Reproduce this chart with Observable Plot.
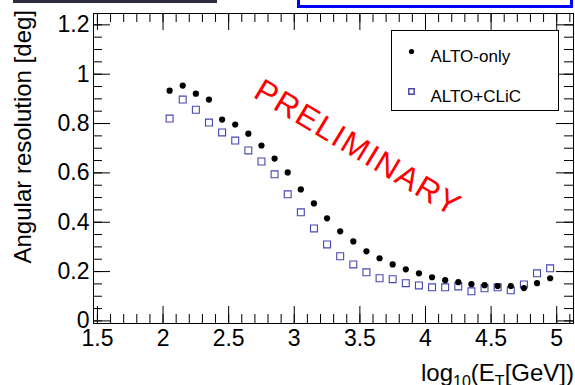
<!DOCTYPE html>
<html>
<head>
<meta charset="utf-8">
<script src="https://cdn.jsdelivr.net/npm/d3@7"></script>
<script src="https://cdn.jsdelivr.net/npm/@observablehq/plot@0.6"></script>
<style>
  html, body { margin: 0; padding: 0; background: #fff; }
  #wrap { position: relative; width: 575px; height: 385px; overflow: hidden; }
  #barDark { position: absolute; left: 13px; top: 0; width: 204px; height: 3px; background: #2b2b3c; }
  #barBlue { position: absolute; left: 297px; top: -4px; width: 270px; height: 6px; border: 3px solid #0000ff; background: #fff; }
</style>
</head>
<body>
<div id="wrap">
  <div id="chart"></div>
  <div id="barDark"></div>
  <div id="barBlue"></div>
</div>
<script>
// ---- data ----
const energyBins = [2.05, 2.15, 2.25, 2.35, 2.45, 2.55, 2.65, 2.75, 2.85, 2.95,
                    3.05, 3.15, 3.25, 3.35, 3.45, 3.55, 3.65, 3.75, 3.85, 3.95,
                    4.05, 4.15, 4.25, 4.35, 4.45, 4.55, 4.65, 4.75, 4.85, 4.95];
const altoOnly = [0.933, 0.954, 0.921, 0.897, 0.816, 0.796, 0.759, 0.711, 0.658, 0.602,
                  0.533, 0.476, 0.416, 0.363, 0.322, 0.282, 0.254, 0.229, 0.209, 0.193,
                  0.177, 0.165, 0.157, 0.149, 0.145, 0.141, 0.141, 0.133, 0.153, 0.173];
const altoClic = [0.820, 0.897, 0.856, 0.804, 0.764, 0.731, 0.691, 0.646, 0.594, 0.513,
                  0.440, 0.375, 0.310, 0.262, 0.229, 0.197, 0.173, 0.169, 0.153, 0.144,
                  0.136, 0.136, 0.140, 0.120, 0.132, 0.136, 0.124, 0.148, 0.193, 0.213];
const seriesNames = ["ALTO-only", "ALTO+CLiC"];
const xMajorTicks = [1.5, 2, 2.5, 3, 3.5, 4, 4.5, 5];
const yMajorTicks = [0, 0.2, 0.4, 0.6, 0.8, 1, 1.2];
const annotation = [{x: 3.485, y: 0.70, text: "PRELIMINARY"}];

// ---- layout ----
const W = 575, H = 385;
const mL = 93, mR = 2, mT = 13, mB = 62;
const fw = W - mL - mR, fh = H - mT - mB;
const majLen = 17, minLen = 9;
const clicColor = "#4646b0";

const xMinorTicks = d3.range(15, 52).map(i => i / 10);
const yMinorTicks = d3.range(0, 25).map(i => i / 20);

const onlyData = energyBins.map((x, i) => ({x, y: altoOnly[i]}));
const clicData = energyBins.map((x, i) => ({x, y: altoClic[i]}));

const fmt = d => String(d);

const chart = Plot.plot({
  width: W, height: H,
  marginLeft: mL, marginRight: mR, marginTop: mT, marginBottom: mB,
  style: {fontFamily: "'Liberation Sans', Arial, sans-serif", fontSize: "23px", color: "black", background: "white"},
  x: {domain: [1.47, 5.128], ticks: xMajorTicks, tickSize: 0, tickPadding: 6, tickFormat: fmt, label: null},
  y: {domain: [-0.0105, 1.246], ticks: yMajorTicks, tickSize: 0, tickPadding: 4, tickFormat: fmt, label: null},
  marks: [
    Plot.frame({stroke: "black"}),
    // inward ticks, bottom & top
    Plot.tickX(xMinorTicks, {x: d => d, insetTop: fh - minLen, stroke: "black"}),
    Plot.tickX(xMajorTicks, {x: d => d, insetTop: fh - majLen, stroke: "black"}),
    Plot.tickX(xMinorTicks, {x: d => d, insetBottom: fh - minLen, stroke: "black"}),
    Plot.tickX(xMajorTicks, {x: d => d, insetBottom: fh - majLen, stroke: "black"}),
    // inward ticks, left & right
    Plot.tickY(yMinorTicks, {y: d => d, insetRight: fw - minLen, stroke: "black"}),
    Plot.tickY(yMajorTicks, {y: d => d, insetRight: fw - majLen, stroke: "black"}),
    Plot.tickY(yMinorTicks, {y: d => d, insetLeft: fw - minLen, stroke: "black"}),
    Plot.tickY(yMajorTicks, {y: d => d, insetLeft: fw - majLen, stroke: "black"}),
    // data
    Plot.dot(clicData, {x: "x", y: "y", symbol: "square", r: 3.9, stroke: clicColor, strokeWidth: 1.1, fill: "none"}),
    Plot.dot(onlyData, {x: "x", y: "y", symbol: "circle", r: 3.1, fill: "black", stroke: "none"}),
    // legend
    Plot.frame({fill: "white", stroke: "black", insetLeft: 298, insetTop: 17, insetRight: 15, insetBottom: 213}),
    Plot.dot([seriesNames[0]], {frameAnchor: "top-left", dx: 318, dy: 38, r: 2.6, fill: "black", stroke: "none"}),
    Plot.dot([seriesNames[1]], {frameAnchor: "top-left", dx: 318, dy: 78, r: 3, symbol: "square", stroke: clicColor, fill: "none"}),
    Plot.text([seriesNames[0]], {frameAnchor: "top-left", dx: 337, dy: 36.7, text: d => d, textAnchor: "start", fontSize: 17}),
    Plot.text([seriesNames[1]], {frameAnchor: "top-left", dx: 337, dy: 76.7, text: d => d, textAnchor: "start", fontSize: 17}),
    // annotation
    Plot.text(annotation, {x: "x", y: "y", text: "text", rotate: 31, fill: "#ff0000", fontSize: 32, textAnchor: "middle", lineAnchor: "middle", className: "prelim"})
  ]
});

const svg = d3.select(chart);
svg.selectAll(".prelim text").attr("letter-spacing", "1.7px");
// y title
svg.append("text")
  .attr("transform", "translate(31,10) rotate(-90)")
  .attr("text-anchor", "end")
  .attr("font-size", 24)
  .attr("fill", "black")
  .text("Angular resolution [deg]");
// x title with subscripts
const xt = svg.append("text")
  .attr("x", 574).attr("y", 381)
  .attr("text-anchor", "end")
  .attr("font-size", 24)
  .attr("fill", "black");
xt.append("tspan").text("log");
xt.append("tspan").attr("font-size", 16).attr("dy", 6).text("10");
xt.append("tspan").attr("dy", -6).text("(E");
xt.append("tspan").attr("font-size", 16).attr("dy", 6).text("T");
xt.append("tspan").attr("dy", -6).text("[GeV])");

document.getElementById("chart").appendChild(chart);
</script>
</body>
</html>
